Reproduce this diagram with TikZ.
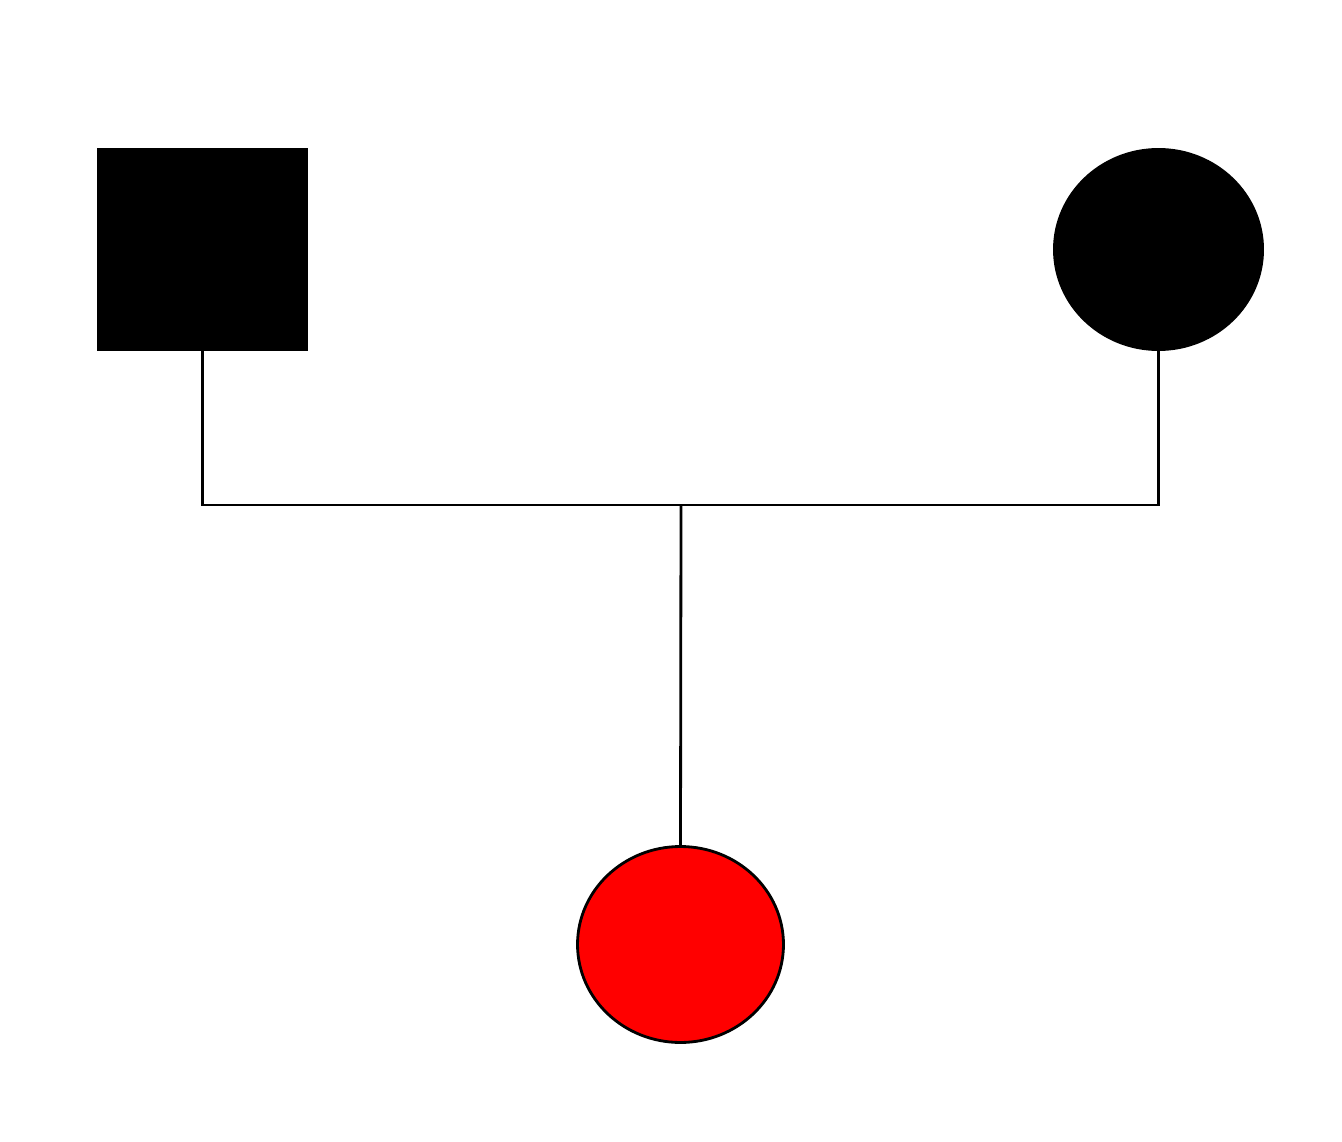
\documentclass[tikz,border=0pt]{standalone}
\usetikzlibrary{shapes.geometric}

\tikzset{
  male/.style={rectangle, fill=black, minimum width=4.22cm, minimum height=4.06cm, inner sep=0pt, outer sep=0pt},
  female/.style={ellipse, fill=black, minimum width=4.22cm, minimum height=4.06cm, inner sep=0pt, outer sep=0pt},
  child/.style={ellipse, draw=black, fill=red, line width=1.6pt, minimum width=4.12cm, minimum height=3.92cm, inner sep=0pt, outer sep=0pt},
  link/.style={line width=1.6pt}
}

\begin{document}
\begin{tikzpicture}[x=0.02cm, y=-0.02cm]
        \useasboundingbox (0,0) rectangle (1342,1142);
        \node[male] (father) at (202.5,249.5) {};
        \node[female] (mother) at (1158.5,249.5) {};
        \node[child] (daughter) at (680.5,944.5) {};
        \coordinate (mate) at (681,505);
        \draw[link] (father.south) |- (mate) -| (mother.south);
        \draw[link] (mate) -- (daughter.north);
      \end{tikzpicture}
\end{document}
